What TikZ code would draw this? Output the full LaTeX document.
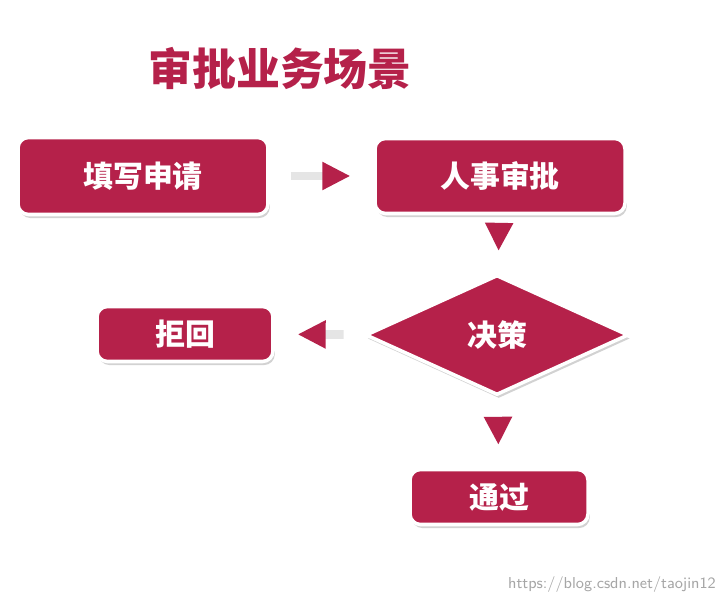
\documentclass[tikz,border=0pt]{standalone}
\usepackage{fontspec}
\newfontfamily\cjk{Noto Sans CJK SC}
\usepackage{tikz}
\usetikzlibrary{arrows.meta,shapes.geometric,shadows,positioning}
\definecolor{crimson}{HTML}{B5214A}

\begin{document}
\begin{tikzpicture}
[x=0.02cm,y=-0.02cm,
box/.style={draw=white,line width=2pt,fill=crimson,rounded corners=6pt,
  text=white,font=\cjk\bfseries\fontsize{17}{17}\selectfont,
  drop shadow={opacity=0.35,shadow xshift=1pt,shadow yshift=-2pt}},
choice/.style={box,shape=diamond,rounded corners=0pt,aspect=2.2,inner sep=1pt},
flow/.style={draw=gray!20,line width=5pt,
  -{Triangle[length=16pt,width=15pt,color=crimson]},shorten <=12pt,shorten >=13pt}]
\useasboundingbox (0,0) rectangle (726,604);
\fill[white] (0,0) rectangle (726,604);

\node (title) at (280,68) [text=crimson,font=\cjk\bfseries\fontsize{25}{25}\selectfont] {审批业务场景};

\node (apply) at (143,176) [box,minimum width=250*0.02cm,minimum height=77*0.02cm] {填写申请};
\node (hr) at (500,176) [box,minimum width=250*0.02cm,minimum height=75*0.02cm] {人事审批};
\node (decide) at (497,335) [choice,minimum width=263*0.02cm,minimum height=120*0.02cm] {决策};
\node (reject) at (185,334) [box,minimum width=176*0.02cm,minimum height=55*0.02cm] {拒回};
\node (pass) at (499,497) [box,minimum width=178*0.02cm,minimum height=55*0.02cm] {通过};

\draw [flow] (apply) -- (hr);
\draw [flow] (hr) -- (decide);
\draw [flow] (decide) -- (reject);
\draw [flow] (decide) -- (pass);

\node (mark) at (612,585) [text=gray!70,font=\sffamily\fontsize{9}{9}\selectfont] {https://blog.csdn.net/taojin12};
\end{tikzpicture}
\end{document}
